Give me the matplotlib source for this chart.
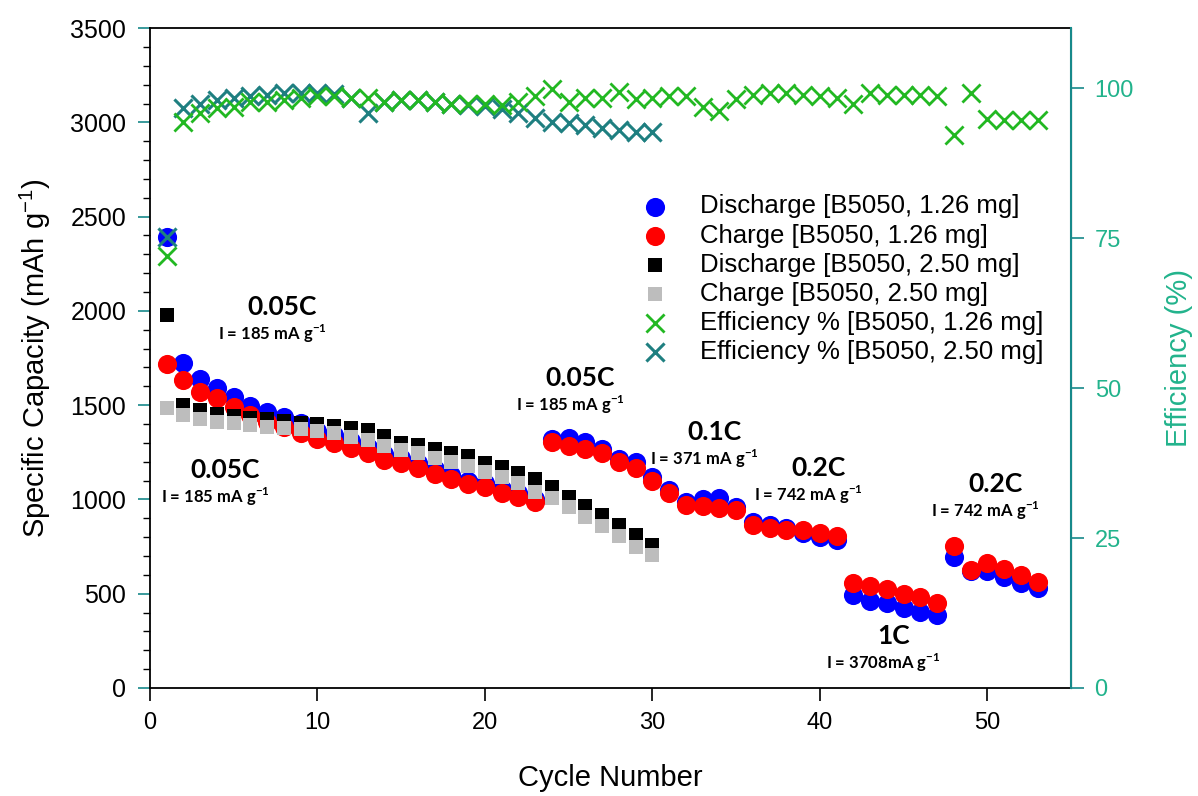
import matplotlib
matplotlib.use('Agg')
import matplotlib.pyplot as plt
import numpy as np

plt.rcParams['font.family'] = ['Liberation Sans', 'DejaVu Sans']

# 1.26 mg electrode, cycles 1-53
cyc_126 = np.arange(1, 54)
dis_126 = [2390, 1723, 1638, 1591, 1543, 1495, 1464, 1437, 1405, 1365,
           1340, 1310, 1278, 1240, 1220, 1192, 1160, 1132, 1100, 1088,
           1054, 1032, 1002, 1318, 1326, 1305, 1267, 1212, 1200, 1120,
           1048, 986, 1004, 1010, 961, 880, 864, 848, 822, 801,
           785, 493, 463, 452, 424, 405, 387, 695, 622, 622,
           590, 558, 530]
ch_126 = [1720, 1633, 1570, 1538, 1490, 1448, 1411, 1384, 1352, 1320,
          1299, 1273, 1246, 1209, 1193, 1167, 1135, 1108, 1080, 1066,
          1034, 1013, 985, 1306, 1283, 1267, 1246, 1198, 1168, 1100,
          1033, 968, 963, 956, 944, 864, 848, 838, 838, 822,
          806, 558, 541, 525, 498, 482, 452, 753, 626, 663,
          631, 599, 564]
eff_126 = [72.0, 94.4, 95.8, 96.6, 96.9, 97.6, 97.7, 98.0, 98.3, 98.6,
           98.6, 98.3, 98.3, 97.7, 98.0, 98.0, 97.7, 97.4, 97.4, 97.4,
           97.2, 97.7, 98.6, 99.9, 97.7, 98.3, 98.3, 99.4, 98.1, 98.3,
           98.6, 98.6, 96.9, 96.1, 98.1, 98.8, 99.1, 99.1, 98.8, 98.6,
           98.4, 97.4, 99.1, 98.8, 98.8, 98.8, 98.6, 92.2, 99.1, 94.9,
           94.7, 94.7, 94.7]

# 2.50 mg electrode, cycles 1-30
cyc_250 = np.arange(1, 31)
dis_250 = [1978, 1500, 1475, 1455, 1440, 1430, 1425, 1415, 1405, 1398,
           1390, 1380, 1370, 1338, 1300, 1288, 1270, 1248, 1228, 1193,
           1172, 1140, 1108, 1066, 1013, 965, 917, 864, 811, 758]
ch_250 = [1485, 1448, 1427, 1411, 1405, 1395, 1384, 1379, 1375, 1365,
          1350, 1331, 1315, 1283, 1262, 1246, 1220, 1198, 1177, 1145,
          1119, 1087, 1040, 1008, 960, 907, 859, 806, 748, 705]
eff_250 = [75.2, 96.6, 97.4, 98.0, 98.3, 98.6, 98.8, 99.1, 99.2, 99.1,
           99.0, 98.4, 95.8, 97.7, 98.0, 98.0, 97.7, 97.4, 97.2, 97.0,
           96.5, 95.8, 95.0, 94.4, 94.1, 93.8, 93.3, 93.0, 92.7, 92.7]

# rate annotations: (x, y, rate, current)
notes = [(7.9, 2020, '0.05C', 'I = 185 mA g'),
         (4.5, 1156, '0.05C', 'I = 185 mA g'),
         (25.7, 1644, '0.05C', 'I = 185 mA g'),
         (33.7, 1358, '0.1C', 'I = 371 mA g'),
         (39.9, 1167, '0.2C', 'I = 742 mA g'),
         (44.4, 276, '1C', 'I = 3708mA g'),
         (50.5, 1082, '0.2C', 'I = 742 mA g')]

teal = '#17898a'
effgreen = '#22b38c'

fig = plt.figure(figsize=(11.98, 7.96), dpi=100)
ax = fig.add_axes([0.125, 0.1357, 0.769, 0.829])
ax2 = ax.twinx()

h1 = ax.scatter(cyc_126, dis_126, s=190, marker='o', color='#0000ff', linewidths=0, zorder=2,
                label='Discharge [B5050, 1.26 mg]')
h2 = ax.scatter(cyc_126, ch_126, s=190, marker='o', color='#ff0000', linewidths=0, zorder=3,
                label='Charge [B5050, 1.26 mg]')
h3 = ax.scatter(cyc_250, dis_250, s=90, marker='s', color='black', linewidths=0, zorder=4,
                label='Discharge [B5050, 2.50 mg]')
h4 = ax.scatter(cyc_250, ch_250, s=90, marker='s', color='#bdbdbd', linewidths=0, zorder=5,
                label='Charge [B5050, 2.50 mg]')
h6 = ax2.scatter(cyc_250, eff_250, s=170, marker='x', color='#1e7f80', linewidths=2.2,
                 label='Efficiency % [B5050, 2.50 mg]')
h5 = ax2.scatter(cyc_126, eff_126, s=170, marker='x', color='#22b822', linewidths=2.0,
                 label='Efficiency % [B5050, 1.26 mg]')

for x, y, rate, cur in notes:
    ax.text(x, y, rate, ha='center', va='center', fontsize=19, fontweight='bold',
            family=['Lato', 'DejaVu Sans'], zorder=6)
    ax.text(x - 0.6, y - 142, cur + r'$^{\mathregular{-1}}$', ha='center', va='center',
            fontsize=12, fontweight='bold', family=['Lato', 'DejaVu Sans'], zorder=6)

ax.set_xlim(0, 55)
ax.set_ylim(0, 3500)
ax2.set_ylim(0, 110)
ax.set_xticks(range(0, 51, 10))
ax.set_yticks(range(0, 3501, 500))
ax.set_yticks(range(0, 3501, 100), minor=True)
ax2.set_yticks([0, 25, 50, 75, 100])

ax.tick_params(axis='x', direction='out', length=9, width=1.2, labelsize=17, pad=8)
ax.tick_params(axis='y', which='major', direction='out', length=9, width=1.2, color=teal,
               labelsize=18, pad=8)
ax.tick_params(axis='y', which='minor', direction='out', length=5, width=1.0, color='black')
ax2.tick_params(axis='y', direction='out', length=9, width=1.2, color=teal,
                labelcolor=effgreen, labelsize=17, pad=8)

for s in ['left', 'bottom', 'top']:
    ax.spines[s].set_linewidth(1.3)
ax2.spines['right'].set_color(teal)
ax2.spines['right'].set_linewidth(1.5)
for s in ['left', 'bottom', 'top']:
    ax2.spines[s].set_visible(False)

ax.set_xlabel('Cycle Number', fontsize=21, labelpad=22)
ax.set_ylabel(r'Specific Capacity (mAh g$^{\mathregular{-1}}$)', fontsize=21, labelpad=12)
ax2.set_ylabel('Efficiency (%)', fontsize=21, color=effgreen, labelpad=22)

ax2.legend(handles=[h1, h2, h3, h4, h5, h6], loc='upper left',
           bbox_to_anchor=(0.535, 0.748), frameon=False, fontsize=18.5,
           handlelength=1.0, handletextpad=1.25, labelspacing=0.2,
           borderpad=0, borderaxespad=0, scatterpoints=1)

fig.savefig('out.png', dpi=100)
